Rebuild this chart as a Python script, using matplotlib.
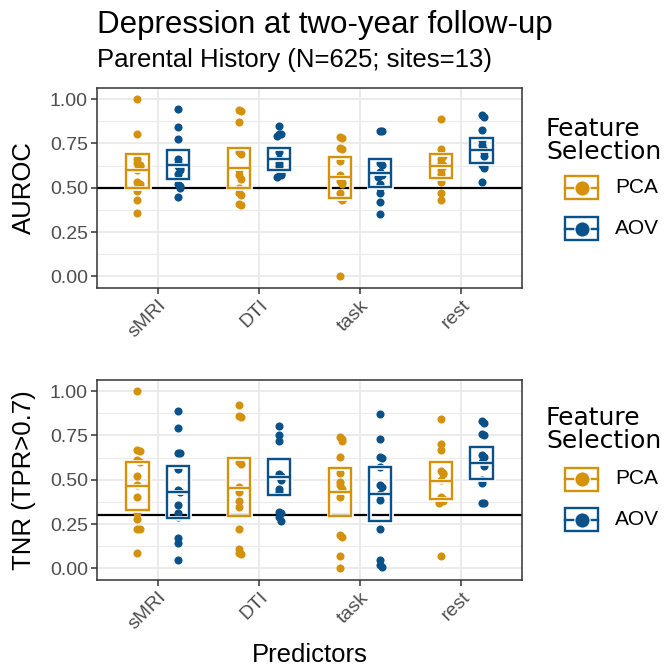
import matplotlib
matplotlib.use("Agg")
import matplotlib.pyplot as plt
import numpy as np
from matplotlib.patches import Rectangle
from matplotlib.lines import Line2D

plt.rcParams['font.family'] = ['Liberation Sans', 'DejaVu Sans']

# ---------------- data ----------------
categories = ['sMRI', 'DTI', 'task', 'rest']
methods = ['PCA', 'AOV']
method_colors = ['#D4920B', '#0B5189']

title = 'Depression at two-year follow-up'
subtitle = 'Parental History (N=625; sites=13)'
legend_title = 'Feature\nSelection'
x_label = 'Predictors'
y_labels = ['AUROC', 'TNR (TPR>0.7)']
y_ticks = [0.0, 0.25, 0.5, 0.75, 1.0]
y_tick_labels = ['0.00', '0.25', '0.50', '0.75', '1.00']
ref_lines = [0.5, 0.3]

# per-site values (13 sites), one list per predictor category
auroc_pca = [
    [1.00, 0.80, 0.66, 0.64, 0.63, 0.62, 0.60, 0.53, 0.52, 0.50, 0.48, 0.43, 0.36],
    [0.94, 0.935, 0.87, 0.70, 0.69, 0.60, 0.57, 0.55, 0.50, 0.47, 0.46, 0.41, 0.40],
    [0.785, 0.78, 0.725, 0.72, 0.65, 0.57, 0.54, 0.53, 0.52, 0.47, 0.44, 0.43, 0.00],
    [0.89, 0.72, 0.69, 0.68, 0.66, 0.64, 0.63, 0.62, 0.60, 0.58, 0.53, 0.47, 0.43],
]
auroc_aov = [
    [0.945, 0.84, 0.775, 0.66, 0.64, 0.62, 0.61, 0.60, 0.58, 0.52, 0.51, 0.50, 0.45],
    [0.85, 0.80, 0.80, 0.79, 0.70, 0.66, 0.64, 0.62, 0.60, 0.59, 0.58, 0.57, 0.56],
    [0.82, 0.82, 0.64, 0.63, 0.59, 0.58, 0.57, 0.56, 0.52, 0.50, 0.47, 0.42, 0.35],
    [0.91, 0.90, 0.825, 0.77, 0.74, 0.72, 0.71, 0.70, 0.68, 0.63, 0.62, 0.61, 0.53],
]
tnr_pca = [
    [1.00, 0.67, 0.66, 0.61, 0.60, 0.52, 0.47, 0.40, 0.31, 0.28, 0.22, 0.22, 0.085],
    [0.92, 0.86, 0.855, 0.60, 0.59, 0.46, 0.43, 0.38, 0.345, 0.225, 0.11, 0.085, 0.08],
    [0.74, 0.73, 0.72, 0.63, 0.54, 0.49, 0.47, 0.45, 0.40, 0.19, 0.18, 0.07, 0.00],
    [0.84, 0.70, 0.67, 0.55, 0.54, 0.53, 0.50, 0.40, 0.39, 0.38, 0.38, 0.37, 0.07],
]
tnr_aov = [
    [0.89, 0.79, 0.65, 0.65, 0.56, 0.44, 0.43, 0.36, 0.31, 0.29, 0.17, 0.145, 0.047],
    [0.80, 0.75, 0.72, 0.53, 0.52, 0.51, 0.50, 0.45, 0.43, 0.32, 0.31, 0.29, 0.27],
    [0.87, 0.73, 0.63, 0.62, 0.57, 0.47, 0.46, 0.42, 0.385, 0.225, 0.05, 0.02, 0.01],
    [0.83, 0.82, 0.76, 0.75, 0.64, 0.63, 0.60, 0.59, 0.58, 0.50, 0.48, 0.37, 0.37],
]

# interval boxes (lower, centre, upper) per category
auroc_pca_box = [(0.50, 0.60, 0.69), (0.50, 0.61, 0.725), (0.44, 0.56, 0.675), (0.555, 0.625, 0.69)]
auroc_aov_box = [(0.55, 0.63, 0.71), (0.60, 0.66, 0.725), (0.505, 0.585, 0.66), (0.64, 0.71, 0.78)]
tnr_pca_box = [(0.33, 0.465, 0.60), (0.295, 0.455, 0.62), (0.295, 0.43, 0.565), (0.39, 0.495, 0.60)]
tnr_aov_box = [(0.285, 0.43, 0.575), (0.415, 0.515, 0.615), (0.265, 0.42, 0.57), (0.505, 0.595, 0.685)]

panels = [
    (auroc_pca, auroc_aov, auroc_pca_box, auroc_aov_box),
    (tnr_pca, tnr_aov, tnr_pca_box, tnr_aov_box),
]

# ---------------- layout ----------------
W, H = 667, 672
fig = plt.figure(figsize=(W / 100, H / 100), dpi=100)


def fx(px):
    return px / W


def fy(py):
    return 1 - py / H


panel_px = [(97, 88, 522, 288), (97, 380, 522, 580)]
dodge = 0.2
box_w = 0.22


def swarm_offsets(vals, step=0.02, tol=0.02):
    offs = []
    placed = []
    for v in vals:
        n = sum(1 for p in placed if abs(p - v) < tol)
        if n == 0:
            o = 0.0
        else:
            o = step * ((n + 1) // 2) * (1 if n % 2 else -1)
        offs.append(o)
        placed.append(v)
    return np.array(offs)


for pi, (l, t, r, b) in enumerate(panel_px):
    ax = fig.add_axes([fx(l), fy(b), fx(r) - fx(l), fy(t) - fy(b)])
    ax.set_xlim(0.4, 4.6)
    ax.set_ylim(-0.065, 1.062)
    ax.set_yticks(y_ticks)
    ax.set_yticklabels(y_tick_labels)
    ax.set_yticks([0.125, 0.375, 0.625, 0.875], minor=True)
    ax.set_xticks(np.arange(1, len(categories) + 1))
    ax.set_xticklabels(categories, rotation=45, ha='right', va='top',
                       rotation_mode='anchor')
    ax.grid(which='major', color='#EBEBEB', lw=1.4)
    ax.grid(which='minor', axis='y', color='#EBEBEB', lw=0.8)
    ax.set_axisbelow(True)
    for s in ax.spines.values():
        s.set_color('#333333')
        s.set_linewidth(1.1)
    ax.tick_params(which='major', length=4, width=1.1, color='#333333',
                   labelcolor='#4D4D4D', labelsize=14, pad=2.5)
    ax.tick_params(which='minor', length=0)

    ax.axhline(ref_lines[pi], color='black', lw=1.6, zorder=2)

    vals_pca, vals_aov, box_pca, box_aov = panels[pi]
    for mi, (vals_list, box_list) in enumerate([(vals_pca, box_pca), (vals_aov, box_aov)]):
        col = method_colors[mi]
        for ci, vals in enumerate(vals_list):
            xc = ci + 1 + (-dodge if mi == 0 else dodge)
            xs = xc + swarm_offsets(vals)
            ax.scatter(xs, vals, s=34, color=col, linewidths=0, zorder=3)
            lo, mid, hi = box_list[ci]
            for ec, lw, z in [('white', 3.4, 4), (col, 1.7, 5)]:
                ax.add_patch(Rectangle((xc - box_w / 2, lo), box_w, hi - lo,
                                       fill=False, ec=ec, lw=lw, zorder=z))
                ax.plot([xc - box_w / 2, xc + box_w / 2], [mid, mid],
                        color=ec, lw=lw, zorder=z, solid_capstyle='butt')

    fig.text(fx(24), fy((t + b) / 2), y_labels[pi], rotation=90, ha='center',
             va='center', fontsize=18.5, color='black')

# titles
fig.text(fx(97), fy(33), title, fontsize=22.5, ha='left', va='baseline')
fig.text(fx(97), fy(67), subtitle, fontsize=18.5, ha='left', va='baseline')
fig.text(fx(309.5), fy(655), x_label, fontsize=18.5, ha='center', va='center')

# legends
legend_geo = [(117, 187.5, 228.5), (406, 479, 519.5)]
for title_y, y1, y2 in legend_geo:
    fig.text(fx(546), fy(title_y), legend_title, fontsize=18, ha='left', va='top',
             family='DejaVu Sans', linespacing=0.95)
    for mi, yc in enumerate([y1, y2]):
        col = method_colors[mi]
        kx0, kx1, kh = 565, 598, 23
        fig.add_artist(Rectangle((fx(kx0), fy(yc + kh / 2)), fx(kx1) - fx(kx0),
                                 fy(yc - kh / 2) - fy(yc + kh / 2),
                                 transform=fig.transFigure, fill=True, fc='white',
                                 ec=col, lw=1.7))
        fig.add_artist(Line2D([fx(kx0), fx(kx1)], [fy(yc), fy(yc)],
                              transform=fig.transFigure, color=col, lw=1.7))
        fig.add_artist(Line2D([fx((kx0 + kx1) / 2)], [fy(yc)], transform=fig.transFigure,
                              marker='o', markersize=11, color=col,
                              markeredgecolor='white', markeredgewidth=0.8, lw=0))
        fig.text(fx(615), fy(yc), methods[mi], fontsize=15, ha='left', va='center')

fig.savefig('out.png', dpi=100)
